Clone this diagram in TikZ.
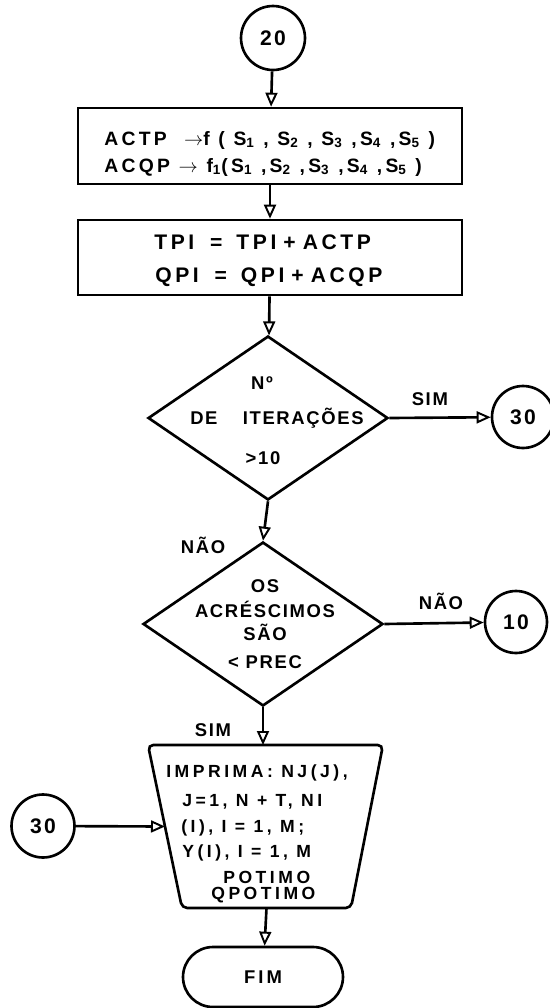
\documentclass[tikz,border=0pt]{standalone}
\usepackage{fontspec}
\setmainfont{Liberation Sans}
\newfontfamily\flowfont{Liberation Sans}
\usetikzlibrary{arrows.meta, positioning, shapes.geometric, shapes.misc, calc}
\tikzset{
  every picture/.style={line width=1.5pt},
  txt/.style={font=\flowfont\bfseries\fontsize{10.5}{12}\selectfont\addfontfeature{LetterSpace=9}, inner sep=0pt},
  boxtxt/.style={font=\flowfont\bfseries\fontsize{#1}{13}\selectfont\addfontfeature{LetterSpace=17}, inner sep=0pt, anchor=west},
  boxtxt/.default=12,
  outtxt/.style={font=\flowfont\bfseries\fontsize{10}{12}\selectfont\addfontfeature{LetterSpace=20}, inner sep=0pt, anchor=west},
  procbox/.style={draw, rectangle, minimum width=7.68cm, minimum height=#1, inner sep=0pt},
  conn/.style={draw, circle, minimum size=#1, inner sep=0pt,
    font=\flowfont\bfseries\fontsize{12}{14}\selectfont\addfontfeature{LetterSpace=10}},
  conn/.default=1.26cm,
  decision/.style={draw, diamond, minimum width=4.8cm, minimum height=3.28cm, inner sep=0pt},
  arrow/.style={-{Triangle[open, length=2.8mm, width=2.4mm, line width=1.1pt]}},
}

\begin{document}
\begin{tikzpicture}[x=0.02cm, y=-0.02cm,
    terminal/.style={draw, rounded rectangle, minimum width=3.2cm, minimum height=1.2cm, txt,
      font=\flowfont\bfseries\fontsize{10.5}{12}\selectfont\addfontfeature{LetterSpace=18}}]
  \useasboundingbox (0,0) rectangle (550,1008);
  % connectors and boxes
  \node[conn=1.28cm] (c20) at (273,38) {20};
  \node[procbox=1.52cm] (calc) at (270,146) {};
  \node[procbox=1.5cm] (acum) at (270,257.5) {};
  \node[decision] (iter) at (268,418) {};
  \node[conn=1.24cm] (c30r) at (523,417) {30};
  \node[decision] (prec) at (263,624) {};
  \node[conn=1.24cm] (c10) at (516,622) {10};
  \node[conn] (c30l) at (43,826) {30};
  \node[terminal] (fim) at (263,977) {F\,I\,M};
  % output trapezium
  \coordinate (impNW) at (148,745);
  \coordinate (impNE) at (383,745);
  \coordinate (impSE) at (351,908);
  \coordinate (impSW) at (182,908);
  \draw[rounded corners=3pt] (impNW) -- (impNE) -- (impSE) -- (impSW) -- cycle;
  \coordinate (impW) at ($(impNW)!0.5!(impSW)$);
  \coordinate (impS) at ($(impSW)!0.5!(impSE)$);
  % texts in the boxes
  \node[boxtxt=11] (calc1) at (103,140) {ACTP \ $\rightarrow$f ( S\textsubscript{1} , S\textsubscript{2} , S\textsubscript{3} ,S\textsubscript{4} ,S\textsubscript{5} )};
  \node[boxtxt=11] (calc2) at (103,167) {ACQP $\rightarrow$ f\textsubscript{1}(S\textsubscript{1} ,S\textsubscript{2} ,S\textsubscript{3} ,S\textsubscript{4} ,S\textsubscript{5} )};
  \node[boxtxt] (acum1) at (153,242) {TPI\hspace{9pt}=\hspace{8pt}TPI\hspace{4pt}+\hspace{4pt}ACTP};
  \node[boxtxt] (acum2) at (154,277) {QPI\hspace{9pt}=\hspace{8pt}QPI\hspace{4pt}+\hspace{4pt}ACQP};
  \node[txt] (iter1) at (262,383) {Nº};
  \node[txt] (iter2) at (277,418) {DE \quad ITERAÇÕES};
  \node[txt] (iter3) at (263,458) {>10};
  \node[txt, align=center] (prectxt) at (265,624) {OS\\[2pt] ACRÉSCIMOS\\[1pt] SÃO\\[4pt] < PREC};
  \foreach \t/\x/\y [count=\i] in {{IMPRIMA: NJ(J),}/165/773, {J=1, N + T, NI}/181/802,
      {(I), I = 1, M;}/180/828, {Y(I), I = 1, M}/181/853, {POTIMO}/222/877, {QPOTIMO}/210/895}
    \node[outtxt] (imp\i) at (\x,\y) {\t};
  % flow
  \draw[arrow] (c20) -- (calc);
  \draw[arrow] (calc) -- (acum);
  \draw[arrow] (acum) -- (iter);
  \draw[arrow] (iter.east) -- node[txt, pos=0.4, above=6pt] (sim1) {SIM} (c30r);
  \draw[arrow] (iter.south) -- (prec.north);
  \draw[arrow] (prec.east) -- node[txt, pos=0.57, above=7pt] (nao2) {NÃO} (c10);
  \draw[arrow] (prec.south) -- (prec.south |- impNW);
  \draw[arrow] (c30l) -- (impW);
  \draw[arrow] (impS) -- (fim);
  % branch labels
  \node[txt] (nao1) at (203,545) {NÃO};
  \node[txt] (sim2) at (213,730) {SIM};
\end{tikzpicture}
\end{document}
